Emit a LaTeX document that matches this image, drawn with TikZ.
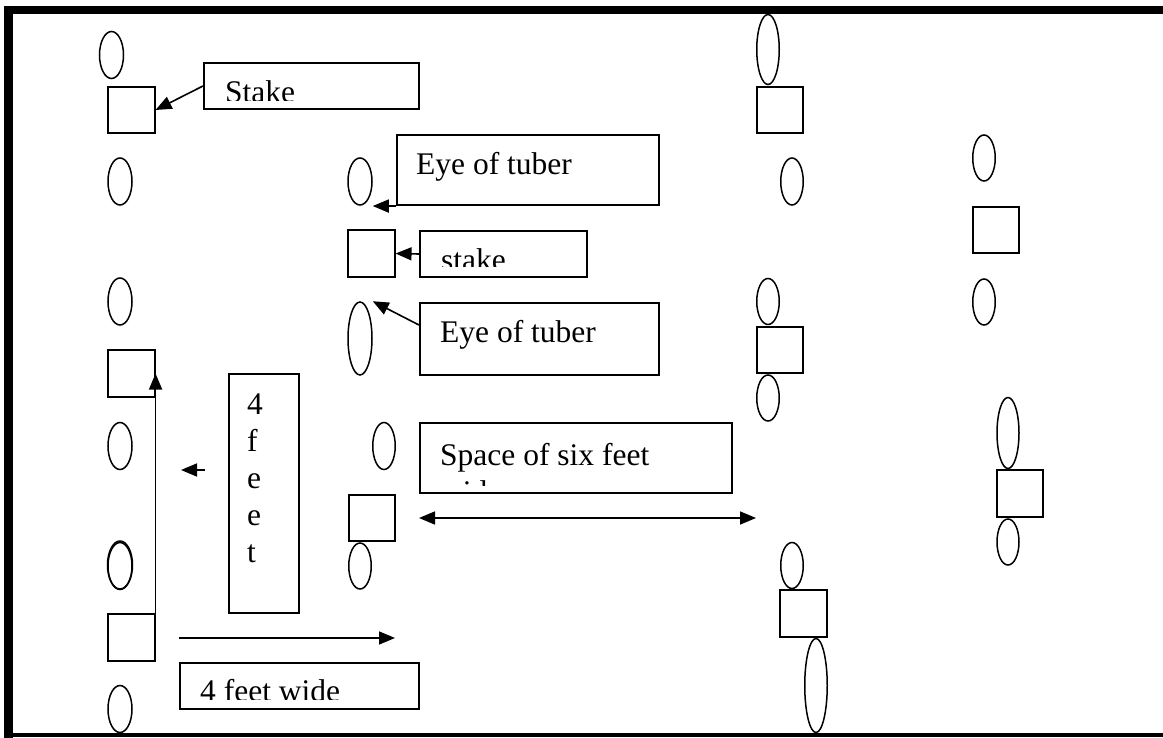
\documentclass[tikz,border=0pt]{standalone}
\usepackage{fontspec}
\setmainfont{Liberation Serif}
\usetikzlibrary{shapes.geometric,arrows.meta}
\newcommand\lblfont{\fontsize{31.5}{37}\selectfont}
\begin{document}
\begin{tikzpicture}[x=1pt,y=-1pt,
  tuber/.style={draw,ellipse,line width=1.5pt,inner sep=0pt},
  box/.style={draw,rectangle,line width=1.6pt,inner sep=0pt},
  stakesq/.style={box,minimum size=46.5},
  lbl/.style={inner sep=0pt,anchor=base west,font=\lblfont},
  arr/.style={line width=1.6pt,-{Triangle[length=16pt,width=13pt]}},
  darr/.style={line width=1.6pt,{Triangle[length=16pt,width=13pt]}-{Triangle[length=16pt,width=13pt]}}]
\useasboundingbox (0,0) rectangle (1163,738);
% frame
\draw[line width=8.5pt] (8.5,738) -- (8.5,10) -- (1163,10);
\draw[line width=3.5pt] (4,735) -- (1163,735);
% tubers (eyes)
\node[tuber,minimum width=24,minimum height=47] (A1) at (111.5,55) {};
\node[tuber,minimum width=24,minimum height=47] (A2) at (120,181.5) {};
\node[tuber,minimum width=24,minimum height=47] (A3) at (120,301.5) {};
\node[tuber,minimum width=24,minimum height=47] (A4) at (120,446) {};
\node[tuber,minimum width=24,minimum height=47] (A5) at (120,566) {};
\node[tuber,minimum width=25,minimum height=48] (A5b) at (120,565) {};
\node[tuber,minimum width=24,minimum height=47] (A6) at (120,709) {};
\node[tuber,minimum width=24,minimum height=47] (B1) at (360,181.5) {};
\node[tuber,minimum width=24,minimum height=73] (B2) at (360,338.5) {};
\node[tuber,minimum width=22.5,minimum height=47] (B3) at (384,446) {};
\node[tuber,minimum width=22.5,minimum height=46] (B4) at (360,566) {};
\node[tuber,minimum width=22.5,minimum height=70] (C1) at (768,49.5) {};
\node[tuber,minimum width=22.5,minimum height=47] (C2) at (792,181.5) {};
\node[tuber,minimum width=22.5,minimum height=46] (C3) at (768,301.5) {};
\node[tuber,minimum width=22.5,minimum height=46] (C4) at (768,398) {};
\node[tuber,minimum width=22.5,minimum height=46] (C5) at (792,565.5) {};
\node[tuber,minimum width=22.5,minimum height=94] (C6) at (816,685.5) {};
\node[tuber,minimum width=22.5,minimum height=46] (D1) at (984,158) {};
\node[tuber,minimum width=22.5,minimum height=46] (D2) at (984,302) {};
\node[tuber,minimum width=22,minimum height=71] (E1) at (1008,433) {};
\node[tuber,minimum width=22,minimum height=46] (E2) at (1008,542) {};
% stakes
\node[stakesq] (SA1) at (131.5,110) {};
\node[stakesq] (SA2) at (131.5,373.5) {};
\node[stakesq] (SA3) at (131.5,637.5) {};
\node[stakesq] (SB1) at (371.5,253.5) {};
\node[stakesq] (SB2) at (372,518) {};
\node[stakesq] (SC1) at (780,110) {};
\node[stakesq] (SC2) at (780,350) {};
\node[stakesq] (SC3) at (803.5,613.5) {};
\node[stakesq] (SD1) at (996,230) {};
\node[stakesq] (SE1) at (1020,493.5) {};
% label boxes
\node[box,minimum width=215.5,minimum height=46.5] (stakebox1) at (311.5,86) {};
\node[box,minimum width=262.5,minimum height=70.5] (eyebox1) at (528,170) {};
\node[box,minimum width=167.5,minimum height=46.5] (stakebox2) at (503.5,254) {};
\node[box,minimum width=239.5,minimum height=72.5] (eyebox2) at (539.5,339) {};
\node[box,minimum width=70.5,minimum height=239.5] (feetbox) at (264,493.5) {};
\node[box,minimum width=312.5,minimum height=70.5] (spacebox) at (576,458) {};
\node[box,minimum width=239.5,minimum height=46.5] (widebox) at (299.5,686) {};
% label texts
\begin{scope}
  \clip (203,62) rectangle (420,100.5);
  \node[lbl] (tstake1) at (225,102.3) {Stake};
\end{scope}
\node[lbl] (teye1) at (416,175) {Eye of tuber};
\begin{scope}
  \clip (419,230) rectangle (588,267);
  \node[lbl] (tstake2) at (441,271) {stake};
\end{scope}
\node[lbl] (teye2) at (440,343) {Eye of tuber};
\node[inner sep=0pt,anchor=north west,align=left,font=\lblfont] (tfeet) at (247,393.7) {4\\f\\e\\e\\t};
\begin{scope}
  \clip (419,422) rectangle (733,485);
  \node[lbl] (tspace) at (440,465) {Space of six feet};
  \node[lbl] (tspace2) at (440,502.5) {wide};
\end{scope}
\begin{scope}
  \clip (179,662) rectangle (420,699);
  \node[lbl] (twide) at (200,701.5) {4 feet wide};
\end{scope}
% connectors
\draw[arr] (stakebox1.west) -- (SA1.east);
\draw[arr] (eyebox1.south west) -- (B1.east |- eyebox1.south west);
\draw[arr] (stakebox2.west) -- (SB1.east);
\draw[arr] ([yshift=14pt]eyebox2.west) -- (B2.north -| B2.east);
\draw[arr] (SA3.north east) -- (SA2.east);
\coordinate (sa1) at (205,470);
\coordinate (sa2) at (181,470);
\draw[arr] (sa1) -- (sa2);
\coordinate (wa1) at (179,638);
\coordinate (wa2) at (395,638);
\draw[arr] (wa1) -- (wa2);
\coordinate (da1) at (419,518);
\coordinate (da2) at (756,518);
\draw[darr] (da1) -- (da2);
\end{tikzpicture}
\end{document}
